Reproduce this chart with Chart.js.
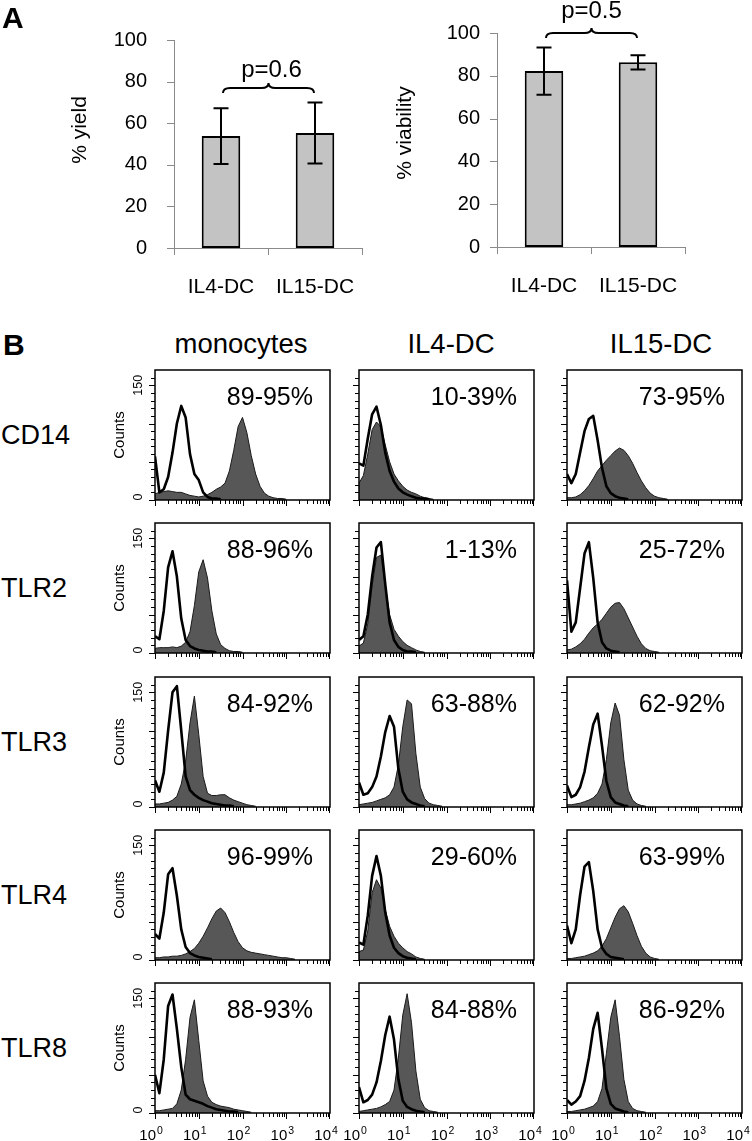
<!DOCTYPE html>
<html><head><meta charset="utf-8">
<script src="https://cdn.jsdelivr.net/npm/chart.js@4.4.1/dist/chart.umd.min.js"></script>
<style>
html,body{margin:0;padding:0;background:#fff;}
body{width:752px;height:1141px;position:relative;overflow:hidden;font-family:"Liberation Sans",Arial,Helvetica,sans-serif;}
canvas{position:absolute;}
.lbl{position:absolute;white-space:nowrap;color:#000;line-height:1;}
</style></head><body>
<script>
// ---------------- DATA ----------------
const BAR_CATEGORIES = ['IL4-DC', 'IL15-DC'];
const BAR_TICKS = [0, 20, 40, 60, 80, 100];
const YIELD_MEAN = [53.8, 55.3];
const YIELD_ERR = [13.4, 14.7];
const VIAB_MEAN = [82.2, 86.3];
const VIAB_ERR = [11.0, 3.3];
const P_YIELD = 'p=0.6';
const P_VIAB = 'p=0.5';

const CELL_TYPES = ['monocytes', 'IL4-DC', 'IL15-DC'];
const MARKERS = ['CD14', 'TLR2', 'TLR3', 'TLR4', 'TLR8'];
const PERCENT_CD14 = ['89-95%', '10-39%', '73-95%'];
const PERCENT_TLR2 = ['88-96%', '1-13%', '25-72%'];
const PERCENT_TLR3 = ['84-92%', '63-88%', '62-92%'];
const PERCENT_TLR4 = ['96-99%', '29-60%', '63-99%'];
const PERCENT_TLR8 = ['88-93%', '84-88%', '86-92%'];

// fluorescence channel, in decades (10^0 .. 10^4)
const LOG_GRID = [0.0,0.1,0.2,0.3,0.4,0.5,0.6,0.7,0.8,0.9,1.0,1.1,1.2,1.3,1.4,1.5,1.6,1.7,1.8,1.9,2.0,
                  2.1,2.2,2.3,2.4,2.5,2.6,2.7,2.8,2.9,3.0,3.1,3.2,3.3,3.4,3.5,3.6,3.7,3.8,3.9,4.0];
const X_TICK_EXPONENTS = ['0', '1', '2', '3', '4'];
const Y_TICK_LABELS = ['0', '150'];
const Y_TITLE = 'Counts';

// counts per channel: isotype control (open) and stained (filled)
const CD14_MONO_ISO   = [57,10,14,30,62,100,123,108,60,34,26,10,4,2,2,1];
const CD14_MONO_STAIN = [8,10,11,12,11,10,10,8,6,5,4,5,7,10,14,17,22,38,65,96,108,88,58,34,18,9,5,3,2,2,1];
const CD14_IL4_ISO    = [48,45,80,112,122,98,62,38,24,15,10,7,5,3,2,2,1];
const CD14_IL4_STAIN  = [22,32,60,92,102,96,72,50,34,25,18,13,10,8,5,3,2,1];
const CD14_IL15_ISO   = [34,22,34,62,90,106,110,78,42,18,9,5,3,2,1];
const CD14_IL15_STAIN = [3,3,4,7,12,19,28,38,45,52,58,64,68,65,58,48,36,25,16,9,5,3,2,1];

const TLR2_MONO_ISO   = [22,18,55,112,133,100,45,17,9,6,4,3,2,2,1];
const TLR2_MONO_STAIN = [6,7,7,7,8,7,9,14,28,62,106,122,98,55,25,11,6,3,2,2,1];
const TLR2_IL4_ISO    = [17,22,50,100,138,145,90,40,17,8,4,2,2,1];
const TLR2_IL4_STAIN  = [9,13,38,88,125,128,88,50,31,22,15,10,7,4,2,1];
const TLR2_IL15_ISO   = [95,28,40,85,130,145,98,40,14,6,3,2,1];
const TLR2_IL15_STAIN = [4,5,8,12,18,26,33,38,44,52,60,65,66,58,46,34,22,12,6,3,2,1];

const TLR3_MONO_ISO   = [35,20,45,100,150,158,100,40,22,16,12,9,7,5,4,3,2,2,1];
const TLR3_MONO_STAIN = [4,4,5,6,9,14,30,60,110,145,95,40,18,15,15,16,16,12,9,7,5,3,2,1];
const TLR3_IL4_ISO    = [32,16,18,26,40,66,98,119,105,50,20,10,6,4,2,1];
const TLR3_IL4_STAIN  = [3,4,5,6,8,10,12,16,26,55,105,140,135,70,26,11,5,3,2,1];
const TLR3_IL15_ISO   = [28,13,16,26,46,78,108,122,80,34,13,6,4,2,1];
const TLR3_IL15_STAIN = [3,3,4,5,7,9,12,18,30,62,110,136,120,62,22,9,4,2,1];

const TLR4_MONO_ISO   = [34,28,62,112,120,84,40,17,9,6,4,3,2,1];
const TLR4_MONO_STAIN = [3,3,4,4,5,5,6,8,11,15,22,31,42,54,64,68,62,50,36,24,16,12,10,9,8,7,6,5,4,3,3,2,1];
const TLR4_IL4_ISO    = [23,20,58,110,136,110,62,32,16,9,5,3,2,1];
const TLR4_IL4_STAIN  = [11,13,38,88,105,94,66,44,31,22,16,11,8,4,2,1];
const TLR4_IL15_ISO   = [45,22,40,85,122,128,90,40,16,8,4,3,2,1];
const TLR4_IL15_STAIN = [2,2,3,4,5,7,9,12,18,28,42,56,67,71,63,48,32,18,9,4,2,1];

const TLR8_MONO_ISO   = [50,26,70,140,155,110,60,24,18,16,14,12,9,7,5,4,3,2,2,1];
const TLR8_MONO_STAIN = [3,3,4,5,6,12,30,70,125,148,95,42,22,14,11,9,8,7,5,4,3,2,1];
const TLR8_IL4_ISO    = [34,14,17,24,40,68,102,126,96,44,16,8,5,3,2,1];
const TLR8_IL4_STAIN  = [2,3,4,5,6,8,11,15,30,72,128,156,118,55,18,7,3,2,1];
const TLR8_IL15_ISO   = [17,11,15,22,42,72,110,131,84,32,12,6,4,2,1];
const TLR8_IL15_STAIN = [2,2,3,4,5,7,9,15,32,78,125,148,100,44,15,6,3,2,1];

// table built from the arrays above
const HIST_ROWS = [
  {iso:[CD14_MONO_ISO, CD14_IL4_ISO, CD14_IL15_ISO], stain:[CD14_MONO_STAIN, CD14_IL4_STAIN, CD14_IL15_STAIN], pct:PERCENT_CD14},
  {iso:[TLR2_MONO_ISO, TLR2_IL4_ISO, TLR2_IL15_ISO], stain:[TLR2_MONO_STAIN, TLR2_IL4_STAIN, TLR2_IL15_STAIN], pct:PERCENT_TLR2},
  {iso:[TLR3_MONO_ISO, TLR3_IL4_ISO, TLR3_IL15_ISO], stain:[TLR3_MONO_STAIN, TLR3_IL4_STAIN, TLR3_IL15_STAIN], pct:PERCENT_TLR3},
  {iso:[TLR4_MONO_ISO, TLR4_IL4_ISO, TLR4_IL15_ISO], stain:[TLR4_MONO_STAIN, TLR4_IL4_STAIN, TLR4_IL15_STAIN], pct:PERCENT_TLR4},
  {iso:[TLR8_MONO_ISO, TLR8_IL4_ISO, TLR8_IL15_ISO], stain:[TLR8_MONO_STAIN, TLR8_IL4_STAIN, TLR8_IL15_STAIN], pct:PERCENT_TLR8}
];

// ---------------- LAYOUT / STYLE ----------------
const FONT = '"Liberation Sans", Arial, Helvetica, sans-serif';
Chart.defaults.font.family = FONT;
const COL_LEFT = [155, 359, 567];
const ROW_TOP = [370, 523, 677, 830, 983];
const BOX_W = 175, BOX_H = 130;
const HEADER_CX = [241, 451, 661];

function addLabel(text, left, baseline, size, bold, align, width) {
  const d = document.createElement('div');
  d.className = 'lbl';
  d.textContent = text;
  d.style.fontSize = size + 'px';
  if (bold) d.style.fontWeight = 'bold';
  d.style.top = (baseline - 0.8465 * size) + 'px';
  if (align === 'center') { d.style.left = (left - width / 2) + 'px'; d.style.width = width + 'px'; d.style.textAlign = 'center'; }
  else d.style.left = left + 'px';
  document.body.appendChild(d);
}
function makeCanvas(left, top, w, h) {
  const c = document.createElement('canvas');
  c.width = w; c.height = h;
  c.style.left = left + 'px'; c.style.top = top + 'px';
  c.style.width = w + 'px'; c.style.height = h + 'px';
  document.body.appendChild(c);
  return c;
}
function txt(ctx, s, x, y, size, align, base, rot) {
  ctx.save();
  ctx.translate(x, y);
  if (rot) ctx.rotate(rot);
  ctx.font = size + 'px ' + FONT;
  ctx.fillStyle = '#000';
  ctx.textAlign = align; ctx.textBaseline = base;
  ctx.fillText(s, 0, 0);
  ctx.restore();
}

// ---------------- PANEL A ----------------
const barPlugin = {
  id: 'barDeco',
  beforeDatasetsDraw(chart, args, o) {
    const {ctx, chartArea: a, scales: {x, y}} = chart;
    ctx.save();
    ctx.strokeStyle = '#8a8a8a'; ctx.lineWidth = 1;
    ctx.beginPath();
    ctx.moveTo(a.left + 0.5, a.top); ctx.lineTo(a.left + 0.5, a.bottom + 0.5);
    ctx.moveTo(a.left, a.bottom + 0.5); ctx.lineTo(a.right, a.bottom + 0.5);
    BAR_TICKS.forEach(v => {
      const py = Math.round(y.getPixelForValue(v)) + 0.5;
      ctx.moveTo(a.left - 7, py); ctx.lineTo(a.left, py);
    });
    const step = x.getPixelForValue(1) - x.getPixelForValue(0);
    for (let i = 0; i <= BAR_CATEGORIES.length; i++) {
      const px = Math.round(x.getPixelForValue(0) - step / 2 + i * step) + 0.5;
      ctx.moveTo(px, a.bottom); ctx.lineTo(px, a.bottom + 7);
    }
    ctx.stroke();
    ctx.restore();
    BAR_TICKS.forEach(v => txt(ctx, String(v), a.left - o.labelGap, y.getPixelForValue(v), 20, 'right', 'middle'));
    BAR_CATEGORIES.forEach((c, i) => txt(ctx, c, x.getPixelForValue(i), a.bottom + 39, 21, 'center', 'middle'));
    txt(ctx, o.title, o.titleX, o.titleY, 21, 'center', 'middle', -Math.PI / 2);
  },
  afterDatasetsDraw(chart, args, o) {
    const {ctx, scales: {x, y}} = chart;
    ctx.save();
    ctx.strokeStyle = '#000'; ctx.lineWidth = 2;
    ctx.beginPath();
    o.means.forEach((m, i) => {
      const cx = Math.round(x.getPixelForValue(i));
      const yt = y.getPixelForValue(m + o.errs[i]);
      const yb = y.getPixelForValue(m - o.errs[i]);
      ctx.moveTo(cx, yt); ctx.lineTo(cx, yb);
      ctx.moveTo(cx - 7.5, yt); ctx.lineTo(cx + 7.5, yt);
      ctx.moveTo(cx - 7.5, yb); ctx.lineTo(cx + 7.5, yb);
    });
    ctx.stroke();
    // curly bracket
    const x1 = x.getPixelForValue(0) + 2, x2 = x.getPixelForValue(1) - 1;
    const cx = (x1 + x2) / 2;
    const yB = y.getPixelForValue(o.braceValue), yM = yB - 5, yT = yB - 10;
    ctx.beginPath();
    ctx.moveTo(x1, yB);
    ctx.quadraticCurveTo(x1, yM, x1 + 7, yM);
    ctx.lineTo(cx - 7, yM);
    ctx.quadraticCurveTo(cx, yM, cx, yT);
    ctx.quadraticCurveTo(cx, yM, cx + 7, yM);
    ctx.lineTo(x2 - 7, yM);
    ctx.quadraticCurveTo(x2, yM, x2, yB);
    ctx.stroke();
    ctx.restore();
    txt(ctx, o.pText, cx + o.pDx, yB - o.pRise, 24, 'center', 'alphabetic');
  }
};

function makeBar(left, top, w, h, pad, means, errs, deco) {
  const c = makeCanvas(left, top, w, h);
  new Chart(c, {
    type: 'bar',
    data: {labels: BAR_CATEGORIES, datasets: [{data: means, backgroundColor: '#c3c3c3', borderColor: '#000',
      borderWidth: 2, borderSkipped: false, barPercentage: 0.41, categoryPercentage: 1}]},
    options: {
      responsive: false, animation: false, devicePixelRatio: 1,
      layout: {padding: pad},
      scales: {x: {display: false}, y: {display: false, min: 0, max: 100}},
      plugins: {legend: {display: false}, tooltip: {enabled: false}, barDeco: Object.assign({means, errs}, deco)}
    },
    plugins: [barPlugin]
  });
}
makeBar(0, 0, 380, 300, {left: 174, right: 18, top: 40, bottom: 52}, YIELD_MEAN, YIELD_ERR,
  {labelGap: 27, title: '% yield', titleX: 80, titleY: 130, braceValue: 74.5, pText: P_YIELD, pDx: 3, pRise: 16});
makeBar(380, 0, 372, 300, {left: 117, right: 67, top: 33, bottom: 53}, VIAB_MEAN, VIAB_ERR,
  {labelGap: 17, title: '% viability', titleX: 25, titleY: 133, braceValue: 97.7, pText: P_VIAB, pDx: 0, pRise: 20});

// ---------------- PANEL B ----------------
const histPlugin = {
  id: 'histDeco',
  afterDatasetsDraw(chart, args, o) {
    const {ctx, chartArea: a, scales: {x, y}} = chart;
    ctx.save();
    ctx.strokeStyle = '#000'; ctx.lineWidth = 1;
    ctx.beginPath();
    for (let v = 0; v <= 160; v += 10) {
      const py = Math.round(y.getPixelForValue(v)) + 0.5;
      const len = (v % 50 === 0) ? 6 : 4;
      ctx.moveTo(a.left - len, py); ctx.lineTo(a.left, py);
    }
    for (let d = 0; d < 4; d++) {
      for (let k = 1; k < 10; k++) {
        const px = Math.round(x.getPixelForValue(d + Math.log10(k))) + 0.5;
        const len = k === 1 ? 6 : 4;
        ctx.moveTo(px, a.bottom); ctx.lineTo(px, a.bottom + len);
      }
    }
    const pr = Math.round(x.getPixelForValue(4)) - 0.5;
    ctx.moveTo(pr, a.bottom); ctx.lineTo(pr, a.bottom + 6);
    ctx.stroke();
    ctx.lineWidth = 1.5;
    ctx.strokeRect(a.left, a.top, a.right - a.left, a.bottom - a.top);
    ctx.restore();
    txt(ctx, o.pct, a.right - 17, a.top + 35, 25, 'right', 'alphabetic');
    if (o.yLabels) {
      txt(ctx, Y_TICK_LABELS[1], a.left - 16, y.getPixelForValue(150), 12.5, 'center', 'middle', -Math.PI / 2);
      txt(ctx, Y_TICK_LABELS[0], a.left - 16, y.getPixelForValue(0) - 3, 12.5, 'center', 'middle', -Math.PI / 2);
      txt(ctx, Y_TITLE, a.left - 35, (a.top + a.bottom) / 2, 15, 'center', 'middle', -Math.PI / 2);
    }
    if (o.xLabels) {
      X_TICK_EXPONENTS.forEach((e, d) => {
        const px = x.getPixelForValue(d);
        const base = a.bottom + 27;
        txt(ctx, '10', px + 1, base, 15, 'right', 'alphabetic');
        txt(ctx, e, px + 2, base - 6, 10.5, 'left', 'alphabetic');
      });
    }
  }
};

function makeHist(r, c) {
  const left = COL_LEFT[c], top = ROW_TOP[r];
  const last = r === ROW_TOP.length - 1;
  const padL = 45, padT = 5, padR = 12, padB = last ? 28 : 12;
  const cv = makeCanvas(left - padL, top - padT, padL + BOX_W + padR, padT + BOX_H + padB);
  const row = HIST_ROWS[r];
  new Chart(cv, {
    type: 'line',
    data: {datasets: [
      {data: row.iso[c].map((v, i) => ({x: LOG_GRID[i], y: v})), borderColor: '#000', borderWidth: 2.6,
       borderJoinStyle: 'round', fill: false, pointRadius: 0, tension: 0, order: 0},
      {data: row.stain[c].map((v, i) => ({x: LOG_GRID[i], y: v})), borderColor: '#1a1a1a', borderWidth: 1,
       backgroundColor: '#575757', fill: 'origin', pointRadius: 0, tension: 0, order: 1}
    ]},
    options: {
      responsive: false, animation: false, devicePixelRatio: 1,
      layout: {padding: {left: padL, top: padT, right: padR, bottom: padB}},
      scales: {x: {type: 'linear', display: false, min: 0, max: 4}, y: {display: false, min: 0, max: 170}},
      plugins: {legend: {display: false}, tooltip: {enabled: false},
        histDeco: {pct: row.pct[c], yLabels: c === 0, xLabels: last}}
    },
    plugins: [histPlugin]
  });
}
for (let r = 0; r < MARKERS.length; r++) for (let c = 0; c < CELL_TYPES.length; c++) makeHist(r, c);

// ---------------- TEXT LABELS ----------------
addLabel('A', 2, 28, 30, true);
addLabel('B', 3, 355, 30, true);
CELL_TYPES.forEach((t, i) => addLabel(t, HEADER_CX[i], 353, 27.5, false, 'center', 200));
MARKERS.forEach((m, i) => addLabel(m, 1, ROW_TOP[i] + BOX_H / 2 + 10, 27, false));
</script>
</body></html>
